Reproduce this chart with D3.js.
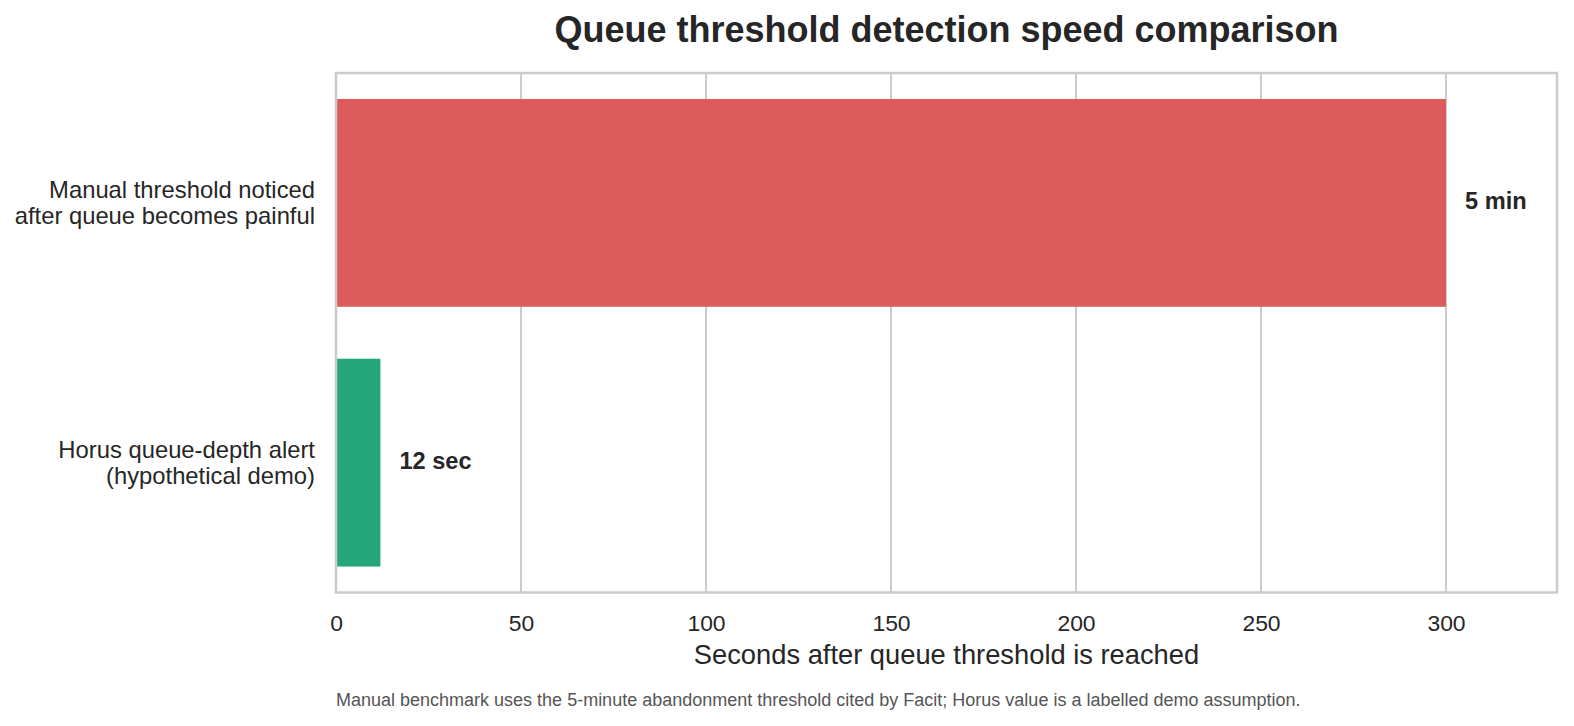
<!DOCTYPE html>
<meta charset="utf-8">
<script src="https://cdn.jsdelivr.net/npm/d3@7"></script>
<style>
  body { margin: 0; background: #fff; }
  text { font-family: "Liberation Sans", Arial, sans-serif; fill: #262626; }
  .tick-label { font-size: 22.9px; }
  .cat-label { font-size: 23.8px; text-anchor: end; }
  .bar-label { font-size: 23.6px; font-weight: bold; }
  .title { font-size: 36px; font-weight: bold; text-anchor: middle; }
  .axis-title { font-size: 27.3px; text-anchor: middle; }
  .note { font-size: 18px; fill: #555; }
</style>
<svg width="1574" height="726"></svg>
<script>

// data
const categories = [
  ["Manual threshold noticed", "after queue becomes painful"],
  ["Horus queue-depth alert", "(hypothetical demo)"]
];
const seconds = [300, 12];
const barLabels = ["5 min", "12 sec"];
const barColors = ["#dc5b5b", "#24a67a"];
const xTicks = [0, 50, 100, 150, 200, 250, 300];

const svg = d3.select("svg");

const margin = {top: 73, right: 17, bottom: 133.5, left: 336},
      width = 1574 - margin.left - margin.right,
      height = 726 - margin.top - margin.bottom;

const x = d3.scaleLinear().domain([0, 330]).range([0, width]);
const y = d3.scaleBand().domain(d3.range(categories.length)).range([0, height])
  .paddingInner(0.2).paddingOuter(0.1);

const chart = svg.append("g")
  .attr("transform", `translate(${margin.left}, ${margin.top})`);

// grid
chart.selectAll(".grid")
  .data(xTicks)
  .join("line")
  .attr("x1", d => x(d)).attr("x2", d => x(d))
  .attr("y1", 0).attr("y2", height)
  .attr("stroke", "#cccccc")
  .attr("stroke-width", 2);

// bars
chart.selectAll(".bar")
  .data(seconds)
  .join("rect")
  .attr("x", x(0))
  .attr("y", (d, i) => y(i))
  .attr("width", d => x(d) - x(0))
  .attr("height", y.bandwidth())
  .attr("fill", (d, i) => barColors[i]);

// frame
chart.append("rect")
  .attr("width", width).attr("height", height)
  .attr("fill", "none")
  .attr("stroke", "#cccccc")
  .attr("stroke-width", 2.5);

// x axis tick labels
const xAxis = chart.append("g")
  .attr("transform", `translate(0, ${height})`)
  .call(d3.axisBottom(x).tickValues(xTicks).tickSize(0).tickPadding(0).tickFormat(d3.format("d")));
xAxis.select(".domain").remove();
xAxis.selectAll("text")
  .attr("class", "tick-label")
  .attr("font-size", null)
  .attr("font-family", null)
  .attr("y", 38)
  .attr("dy", null);

// category labels
chart.selectAll(".cat-label")
  .data(categories)
  .join("text")
  .attr("class", "cat-label")
  .attr("x", -21)
  .attr("y", (d, i) => y(i) + y.bandwidth() / 2)
  .selectAll("tspan")
  .data(d => d)
  .join("tspan")
  .attr("x", -21)
  .attr("dy", (d, i) => i == 0 ? -4.5 : 25.5)
  .text(d => d);

// value labels
chart.selectAll(".bar-label")
  .data(seconds)
  .join("text")
  .attr("class", "bar-label")
  .attr("x", d => x(d) + 19)
  .attr("y", (d, i) => y(i) + y.bandwidth() / 2)
  .attr("dy", "0.28em")
  .text((d, i) => barLabels[i]);

svg.append("text")
  .attr("class", "axis-title")
  .attr("x", margin.left + width / 2)
  .attr("y", 664)
  .text("Seconds after queue threshold is reached");

svg.append("text")
  .attr("class", "title")
  .attr("x", margin.left + width / 2)
  .attr("y", 42)
  .text("Queue threshold detection speed comparison");

svg.append("text")
  .attr("class", "note")
  .attr("x", 336)
  .attr("y", 706)
  .text("Manual benchmark uses the 5-minute abandonment threshold cited by Facit; Horus value is a labelled demo assumption.");
</script>
